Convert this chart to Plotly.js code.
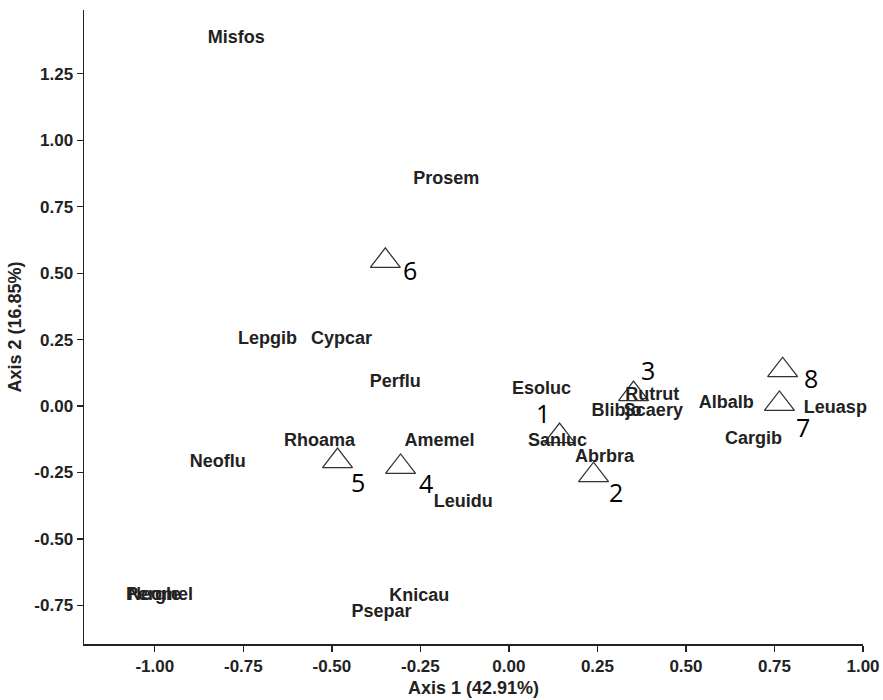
<!DOCTYPE html>
<html>
<head>
<meta charset="utf-8">
<script src="https://cdn.plot.ly/plotly-3.0.1.min.js"></script>
<style>html,body{margin:0;padding:0;background:#fff;}#chart{width:883px;height:700px;}</style>
</head>
<body>
<div id="chart"></div>
<script>
// Species scores
const speciesNames = ["Misfos","Prosem","Lepgib","Cypcar","Perflu","Esoluc","Rutrut","Blibjo","Scaery","Albalb","Leuasp","Cargib","Sanluc","Abrbra","Rhoama","Amemel","Leuidu","Neoflu","Knicau","Psepar","Pergle","Neomel"];
const speciesX = [-0.770,-0.177,-0.682,-0.473,-0.321,0.092,0.405,0.304,0.408,0.614,0.922,0.691,0.137,0.270,-0.535,-0.196,-0.129,-0.822,-0.253,-0.360,-1.004,-0.984];
const speciesY = [1.381,0.854,0.252,0.252,0.090,0.064,0.038,-0.019,-0.019,0.011,-0.008,-0.124,-0.135,-0.192,-0.135,-0.132,-0.361,-0.214,-0.715,-0.775,-0.711,-0.711];

// Site scores
const siteNames = ["1","2","3","4","5","6","7","8"];
const siteX = [0.143,0.239,0.352,-0.306,-0.484,-0.349,0.764,0.773];
const siteY = [-0.113,-0.260,0.045,-0.229,-0.207,0.546,0.008,0.135];

// Axis ticks
const tickVals = [-1.00,-0.75,-0.50,-0.25,0.00,0.25,0.50,0.75,1.00];
const yTickVals = [-0.75,-0.50,-0.25,0.00,0.25,0.50,0.75,1.00,1.25];
const tickText = tickVals.map(v => v.toFixed(2));
const yTickText = yTickVals.map(v => v.toFixed(2));

// label placement (pixel shifts of the site numbers relative to their triangle)
const siteLabelShift = [[-17,23],[22,-17],[14,24],[25,-16],[20,-21],[25,-9],[24,-23],[28,-8]];

const speciesTrace = {
  x: speciesX, y: speciesY, text: speciesNames,
  mode: "text", type: "scatter", cliponaxis: false,
  textposition: "middle center",
  textfont: {family: "Liberation Sans, Arial, sans-serif", size: 18, weight: 700, color: "#222"},
  hoverinfo: "text", showlegend: false
};
const siteTrace = {
  x: siteX, y: siteY, mode: "markers", type: "scatter", cliponaxis: false,
  marker: {symbol: "triangle-up-open", size: 26, color: "#333", line: {width: 1.3, color: "#333"}},
  hoverinfo: "x+y", showlegend: false
};

const annotations = siteNames.map((n, i) => ({
  x: siteX[i], y: siteY[i], xref: "x", yref: "y",
  text: n, showarrow: false,
  xshift: siteLabelShift[i][0], yshift: siteLabelShift[i][1],
  font: {family: "Open Sans, Noto Sans, sans-serif", size: 25, color: "#000"}
}));

const axisFont = {family: "Liberation Sans, Arial, sans-serif", size: 17, weight: 700, color: "#222"};
const titleFont = {family: "Liberation Sans, Arial, sans-serif", size: 18, weight: 700, color: "#222"};
const layout = {
  width: 883, height: 700,
  margin: {l: 84, r: 20, t: 10, b: 56},
  paper_bgcolor: "#fff", plot_bgcolor: "#fff",
  showlegend: false,
  xaxis: {
    range: [-1.2, 1.0], showgrid: false, zeroline: false,
    showline: true, linecolor: "#222", linewidth: 1.5, mirror: false,
    ticks: "outside", ticklen: 6, tickwidth: 1.3, tickcolor: "#222",
    tickvals: tickVals, ticktext: tickText, tickfont: axisFont,
    title: {text: "Axis 1 (42.91%)", font: titleFont, standoff: 6}
  },
  yaxis: {
    range: [-0.895, 1.49], showgrid: false, zeroline: false,
    showline: true, linecolor: "#222", linewidth: 1.5, mirror: false,
    ticks: "outside", ticklen: 6, tickwidth: 1.3, tickcolor: "#222",
    tickvals: yTickVals, ticktext: yTickText, tickfont: axisFont,
    title: {text: "Axis 2 (16.85%)", font: titleFont, standoff: 8}
  },
  annotations: annotations
};

Plotly.newPlot("chart", [siteTrace, speciesTrace], layout, {displayModeBar: false, staticPlot: true});
</script>
</body>
</html>
